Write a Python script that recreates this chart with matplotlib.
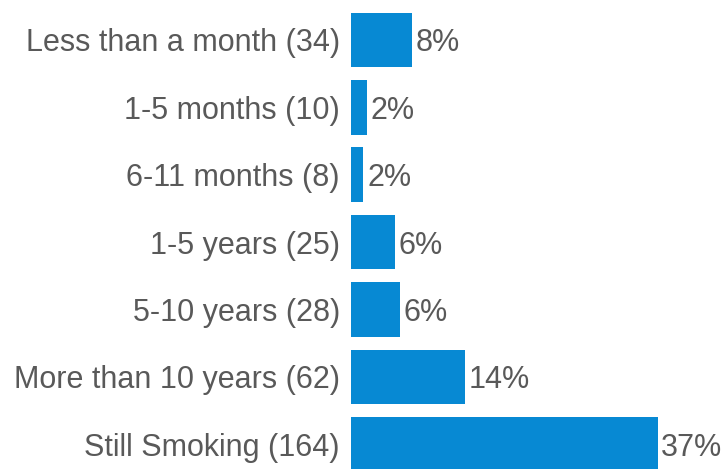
import matplotlib.pyplot as plt

plt.rcParams['font.family'] = ['Liberation Sans', 'DejaVu Sans']

# categories and values
categories = ['Less than a month (34)', '1-5 months (10)', '6-11 months (8)',
              '1-5 years (25)', '5-10 years (28)', 'More than 10 years (62)',
              'Still Smoking (164)']
values = [7.4, 1.9, 1.5, 5.3, 5.9, 13.8, 37.0]
labels = ['8%', '2%', '2%', '6%', '6%', '14%', '37%']

fig = plt.figure(figsize=(7.23, 4.69), dpi=100)
ax = fig.add_axes([351 / 723, 0, 1 - 351 / 723, 1])

y = range(len(categories))
bars = ax.barh(y, values, height=0.81, color='#0789D3')

for b, lab in zip(bars, labels):
    ax.text(b.get_width() + 0.45, b.get_y() + b.get_height() / 2, lab,
            va='center_baseline', ha='left', fontsize=22, color='#595959')

ax.set_yticks(list(y))
ax.set_yticklabels(categories, fontsize=22, color='#595959')
ax.tick_params(axis='y', length=0, pad=8)
ax.set_xticks([])
ax.set_xlim(0, 44.9)
ax.set_ylim(6.365, -0.593)
for s in ax.spines.values():
    s.set_visible(False)

plt.savefig('out.png', dpi=100)
